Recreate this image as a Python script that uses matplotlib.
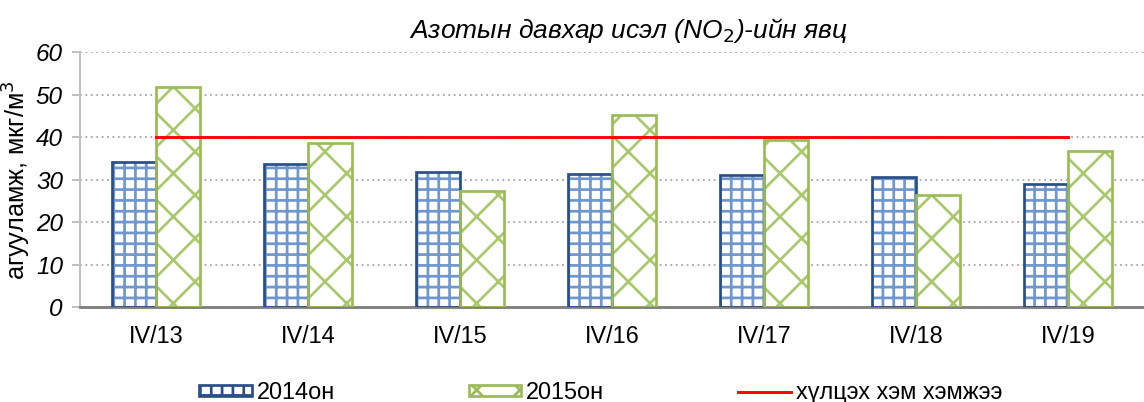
import numpy as np
import matplotlib.pyplot as plt
from matplotlib.patches import Patch
from matplotlib.lines import Line2D

plt.rcParams['font.family'] = ['Liberation Sans', 'DejaVu Sans']

# ----- Datos -----
categorias = ['IV/13', 'IV/14', 'IV/15', 'IV/16', 'IV/17', 'IV/18', 'IV/19']
valores_2014 = [34.2, 33.7, 31.8, 31.4, 31.1, 30.7, 29.1]
valores_2015 = [51.8, 38.7, 27.3, 45.2, 39.4, 26.4, 36.8]
norma = [40, 40, 40, 40, 40, 40, 40]
etiquetas = ['2014он', '2015он', 'хүлцэх хэм хэмжээ']

azul_borde = '#2a4f86'
azul_trama = '#6f97cf'
verde_borde = '#9bbb59'
verde_trama = '#a9c86b'

# dpi 130 para que la trama '++' tenga ~11 px de paso
DPI = 130
fig = plt.figure(figsize=(1144 / DPI, 402 / DPI), dpi=DPI)
ax = fig.add_axes([0.07, 0.236, 0.93, 0.634])

x = np.arange(len(categorias))
ancho = 0.29
fs = 13

# trama (sin borde) y luego el contorno encima
plt.rcParams['hatch.linewidth'] = 1.5
ax.bar(x - ancho / 2, valores_2014, ancho, facecolor='white', edgecolor=azul_trama,
       hatch='++', linewidth=0, zorder=2)
ax.bar(x - ancho / 2, valores_2014, ancho, facecolor='none', edgecolor=azul_borde,
       linewidth=1.5, zorder=3)
ax.bar(x + ancho / 2, valores_2015, ancho, facecolor='white', edgecolor=verde_trama,
       hatch='x', linewidth=0, zorder=2)
ax.bar(x + ancho / 2, valores_2015, ancho, facecolor='none', edgecolor=verde_borde,
       linewidth=1.5, zorder=3)
ax.plot(x, norma, color='#ff0000', linewidth=1.6, zorder=4)

ax.set_xlim(-0.5, len(categorias) - 0.5)
ax.set_ylim(0, 60)
ax.set_yticks(np.arange(0, 61, 10))
ax.set_xticks(x)
ax.set_xticklabels(categorias, fontsize=fs)
for t in ax.get_yticklabels():
    t.set_fontstyle('italic')
    t.set_fontsize(fs + 0.5)
ax.tick_params(axis='x', length=0, pad=10)
ax.tick_params(axis='y', length=4.5, color='#bfbfbf', width=1.1, pad=5)
ax.yaxis.grid(True, linestyle=(0, (1, 2)), color='#a6a6a6', linewidth=1.0, zorder=0)
ax.set_axisbelow(True)
for lado in ['top', 'right']:
    ax.spines[lado].set_visible(False)
ax.spines['left'].set_color('#bfbfbf')
ax.spines['left'].set_linewidth(1.1)
ax.spines['bottom'].set_color('#808080')
ax.spines['bottom'].set_linewidth(1.6)

ax.set_ylabel('агууламж, мкг/м$^3$', fontsize=14)
ax.yaxis.set_label_coords(-0.044, 0.5)
fig.text(0.549, 0.925, 'Азотын давхар исэл (NO$_2$)-ийн явц', fontsize=fs + 1.6,
         fontstyle='italic', ha='center', va='center')

# ----- Leyenda -----
h1 = Patch(facecolor='white', edgecolor=azul_borde, hatch='++', linewidth=1.5)
h2 = Patch(facecolor='white', edgecolor=verde_borde, hatch='x', linewidth=1.5)
h3 = Line2D([0], [0], color='#ff0000', linewidth=1.6)
fig.legend([h1, h2, h3], etiquetas, loc='center left',
           bbox_to_anchor=(0.174, 0.024), ncol=3, frameon=False, fontsize=fs,
           columnspacing=5.7, handlelength=2.25, handleheight=0.35,
           handletextpad=0.2, borderpad=0, borderaxespad=0)

plt.savefig('out.png', dpi=DPI)
